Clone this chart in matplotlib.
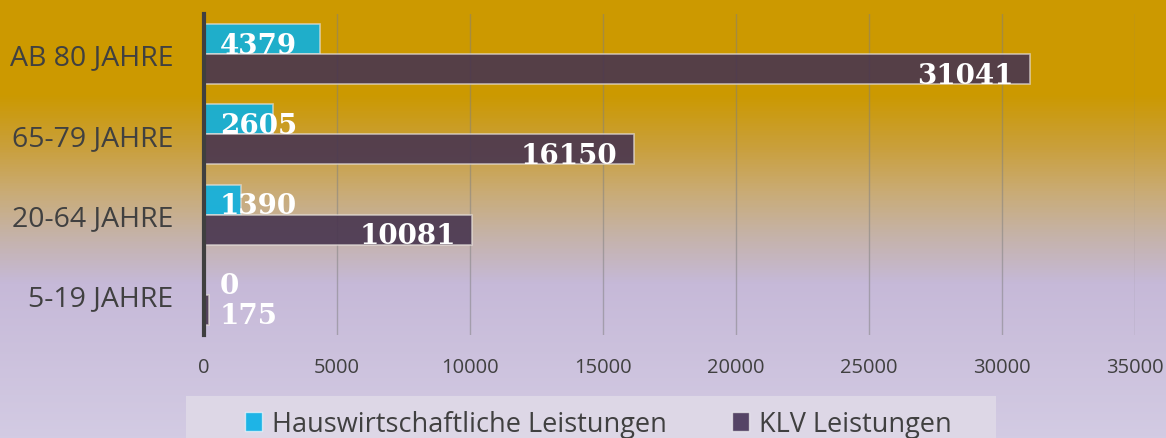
import numpy as np
import matplotlib.pyplot as plt
from matplotlib.colors import LinearSegmentedColormap
from matplotlib.patches import Rectangle, Patch
from matplotlib.transforms import offset_copy

categories = ["AB 80 JAHRE", "65-79 JAHRE", "20-64 JAHRE", "5-19 JAHRE"]
haus = [4379, 2605, 1390, 0]
klv = [31041, 16150, 10081, 175]
series_names = ["Hauswirtschaftliche Leistungen", "KLV Leistungen"]
xticks = [0, 5000, 10000, 15000, 20000, 25000, 30000, 35000]

W, H = 1166, 439
fig = plt.figure(figsize=(W / 100, H / 100), dpi=100)

# gradient background (gold -> lavender)
bg = fig.add_axes([0, 0, 1, 1], zorder=-10)
stops = [(0.0, "#CC9900"), (95 / H, "#CC9900"), (150 / H, "#C9A03E"),
         (195 / H, "#C9AC78"), (240 / H, "#C5B3AC"), (285 / H, "#C6B9D8"),
         (1.0, "#D3CBE3")]
cmap = LinearSegmentedColormap.from_list("bg", stops)
bg.imshow(np.linspace(0, 1, 439).reshape(-1, 1), aspect="auto", cmap=cmap,
          extent=[0, 1, 0, 1], origin="upper")
bg.axis("off")

# legend band
fig.patches.append(Rectangle((186 / W, 0), (996 - 186) / W, (H - 397) / H,
                             transform=fig.transFigure, facecolor="#DDD7E6",
                             edgecolor="none", zorder=-5))

ax = fig.add_axes([204 / W, (H - 336) / H, (1135 - 204) / W, (336 - 15) / H])
ax.set_facecolor("none")

y = np.arange(len(categories))
h = 0.374
c_haus = (12 / 255, 177 / 255, 225 / 255, 0.9)
c_klv = (72 / 255, 53 / 255, 79 / 255, 0.9)
edge = (0.9, 0.88, 0.86, 0.7)
ax.barh(y - h / 2, haus, height=h, color=c_haus, edgecolor=edge, linewidth=1.2,
        label=series_names[0], zorder=3)
ax.barh(y + h / 2, klv, height=h, color=c_klv, edgecolor=edge, linewidth=1.2,
        label=series_names[1], zorder=3)

ax.set_xlim(0, 35000)
ax.set_ylim(3.5, -0.5)
ax.set_xticks(xticks)
ax.set_xticklabels([str(t) for t in xticks])
ax.set_yticks(y)
ax.set_yticklabels(categories)
ax.tick_params(axis="x", length=0, pad=16, labelsize=14.5, labelcolor="#404040")
ax.tick_params(axis="y", length=0, pad=22, labelsize=20.5, labelcolor="#404040")
for lab in ax.get_xticklabels() + ax.get_yticklabels():
    lab.set_fontfamily("Open Sans")

ax.grid(axis="x", color="#7f7f7f", alpha=0.5, linewidth=1, zorder=0)
for s in ["top", "right", "bottom"]:
    ax.spines[s].set_visible(False)
ax.spines["left"].set_color("#3F3F3F")
ax.spines["left"].set_linewidth(3)
ax.spines["left"].set_zorder(5)

lab_kw = dict(color="white", fontsize=20, fontweight="bold",
              family="DejaVu Serif", va="center", zorder=6)
right_in = offset_copy(ax.transData, fig=fig, x=16, y=-6, units="dots")
left_in = offset_copy(ax.transData, fig=fig, x=-16, y=-6, units="dots")
for i, v in enumerate(haus):
    ax.text(0, i - h / 2, str(v), transform=right_in, ha="left", **lab_kw)
for i, v in enumerate(klv):
    if v > 3000:
        ax.text(v, i + h / 2, str(v), transform=left_in, ha="right", **lab_kw)
    else:
        ax.text(0, i + h / 2, str(v), transform=right_in, ha="left", **lab_kw)

hnd = [Patch(facecolor="#1EB4E6", edgecolor=(1, 1, 1, 0.6)),
       Patch(facecolor="#554466", edgecolor=(1, 1, 1, 0.6))]
fig.legend(hnd, series_names, loc="center", bbox_to_anchor=(598 / W, (H - 425) / H),
           ncol=2, frameon=False, handlelength=0.65, handleheight=0.65,
           handletextpad=0.35, columnspacing=2.4,
           prop={"family": "Open Sans", "size": 19.5}, labelcolor="#404040")

fig.savefig("out.png", dpi=100)
